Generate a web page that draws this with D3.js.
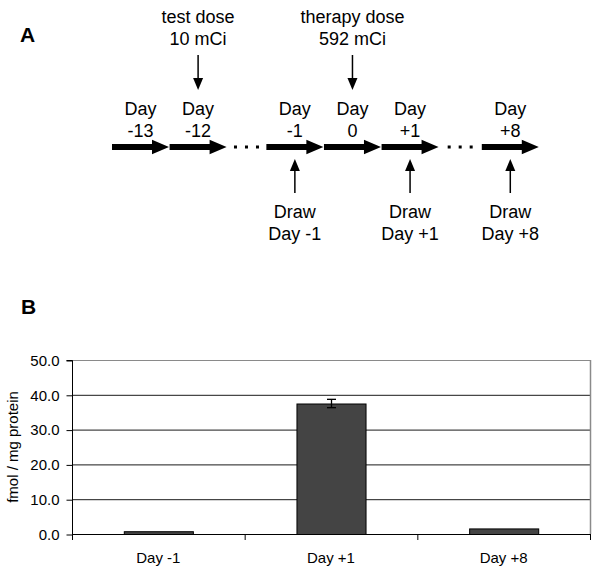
<!DOCTYPE html>
<html>
<head>
<meta charset="utf-8">
<script src="https://cdn.jsdelivr.net/npm/d3@7"></script>
<style>
  html, body { margin: 0; padding: 0; background: #fff; }
  svg { display: block; font-family: "Liberation Sans", Arial, sans-serif; }
</style>
</head>
<body>
<svg id="chart" width="600" height="576"></svg>
<script>
// ---------- Panel A data (timeline) ----------
const timelineDays = ["-13", "-12", "-1", "0", "+1", "+8"];
const timelineSlots = [0, 1, 2.68, 3.68, 4.68, 6.42];   // relative order along the timeline
const ellipsisAfter = ["-12", "+1"];                    // "..." gaps follow these days
const doseDays = ["-12", "0"];
const doseLabels = [["test dose", "10 mCi"], ["therapy dose", "592 mCi"]];
const drawDays = ["-1", "+1", "+8"];

// ---------- Panel B data (bar chart) ----------
const categories = ["Day -1", "Day +1", "Day +8"];
const values = [0.8, 37.5, 1.6];
const errors = [0, 1.2, 0];
const yTicks = [0, 10, 20, 30, 40, 50];
const yTickLabels = ["0.0", "10.0", "20.0", "30.0", "40.0", "50.0"];
const yTitle = "fmol / mg protein";

(function () {
const svg = d3.select("#chart");
svg.append("rect").attr("width", 600).attr("height", 576).attr("fill", "#fff");

// ================= Panel A =================
svg.append("text").attr("x", 20).attr("y", 42)
  .attr("font-size", 21).attr("font-weight", "bold").text("A");

const tx = d3.scaleLinear().domain([0, 1]).range([112, 169.6]);
const arrowLen = 57, arrowY = 147;
const posOf = d => tx(timelineSlots[timelineDays.indexOf(d)]);
const centerOf = d => posOf(d) + arrowLen / 2;

const gA = svg.append("g");
timelineDays.forEach(d => {
  const x0 = posOf(d), x1 = x0 + arrowLen, hl = 17;
  const p = d3.path();
  p.moveTo(x0, arrowY - 3);
  p.lineTo(x1 - hl, arrowY - 3);
  p.lineTo(x1 - hl, arrowY - 7.3);
  p.lineTo(x1, arrowY);
  p.lineTo(x1 - hl, arrowY + 7.3);
  p.lineTo(x1 - hl, arrowY + 3);
  p.lineTo(x0, arrowY + 3);
  p.closePath();
  gA.append("path").attr("d", p.toString()).attr("fill", "#000");
  const t = gA.append("text").attr("text-anchor", "middle").attr("font-size", 18);
  t.append("tspan").attr("x", centerOf(d)).attr("y", 115).text("Day");
  t.append("tspan").attr("x", centerOf(d)).attr("y", 137).text(d);
});
ellipsisAfter.forEach(d => {
  const i = timelineDays.indexOf(d);
  const endX = posOf(d) + arrowLen, nextX = posOf(timelineDays[i + 1]);
  const c = (endX + nextX) / 2;
  [-11, 0, 11].forEach(o => {
    gA.append("rect").attr("x", c + o - 1.5).attr("y", arrowY - 1.5)
      .attr("width", 3).attr("height", 3).attr("fill", "#000");
  });
});
doseDays.forEach((d, i) => {
  const cx = centerOf(d);
  gA.append("line").attr("x1", cx).attr("x2", cx).attr("y1", 55).attr("y2", 80)
    .attr("stroke", "#000").attr("stroke-width", 1.5);
  gA.append("path").attr("d", `M${cx - 5},78 L${cx + 5},78 L${cx},90 Z`).attr("fill", "#000");
  const t = gA.append("text").attr("text-anchor", "middle").attr("font-size", 18);
  t.append("tspan").attr("x", cx).attr("y", 23).text(doseLabels[i][0]);
  t.append("tspan").attr("x", cx).attr("y", 45).text(doseLabels[i][1]);
});
drawDays.forEach(d => {
  const cx = centerOf(d);
  gA.append("line").attr("x1", cx).attr("x2", cx).attr("y1", 169).attr("y2", 193)
    .attr("stroke", "#000").attr("stroke-width", 1.5);
  gA.append("path").attr("d", `M${cx - 5},171 L${cx + 5},171 L${cx},159 Z`).attr("fill", "#000");
  const t = gA.append("text").attr("text-anchor", "middle").attr("font-size", 18);
  t.append("tspan").attr("x", cx).attr("y", 218).text("Draw");
  t.append("tspan").attr("x", cx).attr("y", 240).text("Day " + d);
});

// ================= Panel B =================
svg.append("text").attr("x", 21).attr("y", 314)
  .attr("font-size", 21).attr("font-weight", "bold").text("B");

const pL = 72, pR = 590, pT = 360, pB = 534;
const x = d3.scaleBand().domain(categories).range([pL, pR]).paddingInner(0.6).paddingOuter(0.3);
const y = d3.scaleLinear().domain([0, 50]).range([pB, pT]);

const gB = svg.append("g");
gB.selectAll("line.grid").data(yTicks.filter(v => v > 0)).join("line")
  .attr("class", "grid")
  .attr("x1", pL).attr("x2", pR)
  .attr("y1", d => y(d) + 0.5).attr("y2", d => y(d) + 0.5)
  .attr("stroke", d => d === 50 ? "#8a8a8a" : "#1a1a1a").attr("stroke-width", 1);
gB.append("line").attr("x1", pR + 0.5).attr("x2", pR + 0.5)
  .attr("y1", pT).attr("y2", pB).attr("stroke", "#8a8a8a").attr("stroke-width", 1.5);

gB.selectAll("rect.bar").data(values).join("rect")
  .attr("class", "bar")
  .attr("x", (d, i) => x(categories[i]) + 0.5)
  .attr("y", d => y(d) + 0.5)
  .attr("width", x.bandwidth())
  .attr("height", d => pB - y(d))
  .attr("fill", "#444").attr("stroke", "#000").attr("stroke-width", 1);

values.forEach((v, i) => {
  if (!errors[i]) return;
  const cx = x(categories[i]) + x.bandwidth() / 2 + 0.5;
  const g = gB.append("g").attr("stroke", "#000").attr("stroke-width", 1.3);
  g.append("line").attr("x1", cx).attr("x2", cx).attr("y1", y(v + errors[i])).attr("y2", y(v - errors[i]));
  g.append("line").attr("x1", cx - 4.5).attr("x2", cx + 4.5).attr("y1", y(v + errors[i])).attr("y2", y(v + errors[i]));
  g.append("line").attr("x1", cx - 4.5).attr("x2", cx + 4.5).attr("y1", y(v - errors[i])).attr("y2", y(v - errors[i]));
});

const yAxis = d3.axisLeft(y).tickValues(yTicks)
  .tickFormat((d, i) => yTickLabels[i]).tickSize(6).tickPadding(7);
const gy = svg.append("g").attr("transform", `translate(${pL + 0.5},0.5)`).call(yAxis);
gy.select(".domain").attr("stroke", "#000").attr("d", `M-6,${pT}H0V${pB}`);
gy.selectAll(".tick line").attr("stroke", "#000");
gy.selectAll(".tick text").attr("font-size", 15).attr("fill", "#000")
  .attr("font-family", "Liberation Sans, Arial, sans-serif");

const xEdges = d3.scaleLinear().domain([0, categories.length]).range([pL, pR]);
const gx = svg.append("g");
gx.append("line").attr("x1", pL).attr("x2", pR).attr("y1", pB + 0.5).attr("y2", pB + 0.5)
  .attr("stroke", "#000");
d3.range(categories.length + 1).forEach(k => {
  gx.append("line").attr("x1", xEdges(k) + 0.5).attr("x2", xEdges(k) + 0.5)
    .attr("y1", pB).attr("y2", pB + 6).attr("stroke", "#000");
});
gx.selectAll("text").data(categories).join("text")
  .attr("x", d => x(d) + x.bandwidth() / 2)
  .attr("y", 563).attr("text-anchor", "middle").attr("font-size", 15).text(d => d);

svg.append("text").attr("transform", `translate(18,${(pT + pB) / 2}) rotate(-90)`)
  .attr("text-anchor", "middle").attr("font-size", 15).text(yTitle);
})();
</script>
</body>
</html>
